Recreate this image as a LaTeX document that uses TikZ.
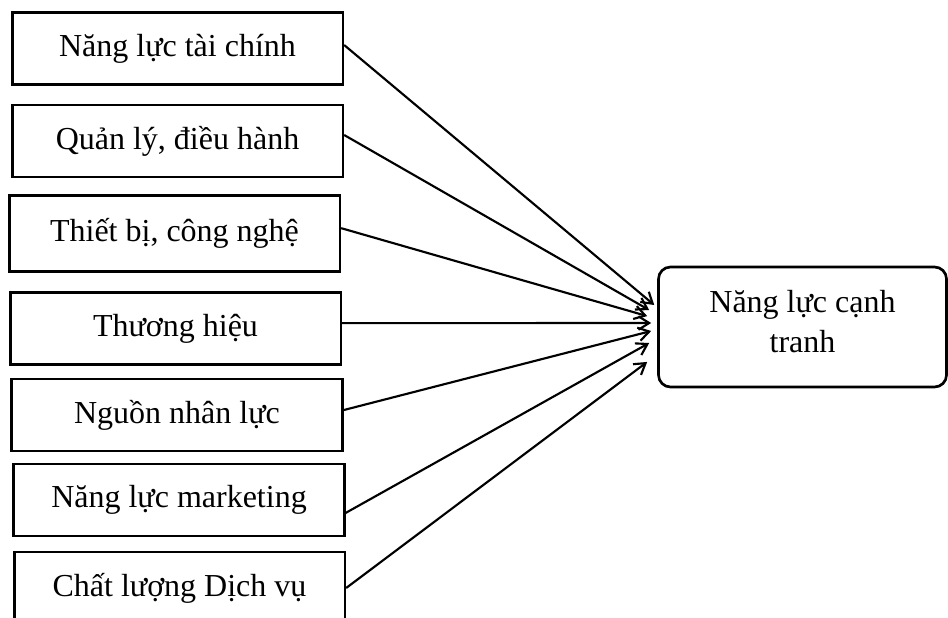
\documentclass[tikz,border=0pt]{standalone}
\usepackage{fontspec}
\setmainfont{Liberation Serif}
\usetikzlibrary{arrows.meta}

\tikzset{
    factor/.style={draw, line width=2pt, minimum width=248pt, minimum height=54pt,
        inner sep=0pt, font=\fontsize{24}{30}\selectfont},
    result/.style={draw, line width=2pt, rounded corners=9pt, minimum width=216pt,
        minimum height=90pt, align=center, text depth=9pt, font=\fontsize{24}{30}\selectfont},
    link/.style={line width=1.6pt, -{Straight Barb[length=8pt,width=10pt]}}
}

\begin{document}
\begin{tikzpicture}[x=0.75pt, y=-0.75pt]
        \useasboundingbox (0,0) rectangle (948,617);
        \node[factor] (tc) at (177.5,48.5) {Năng lực tài chính};
        \node[factor] (ql) at (177.5,141) {Quản lý, điều hành};
        \node[factor, minimum height=57pt] (tb) at (174.5,233.5) {Thiết bị, công nghệ};
        \node[factor] (th) at (175.5,328.5) {Thương hiệu};
        \node[factor] (nl) at (177,415) {Nguồn nhân lực};
        \node[factor] (mk) at (179,500) {Năng lực marketing};
        \node[factor] (dv) at (179.5,588) {Chất lượng Dịch vụ};
        \node[result] (cc) at (802.5,327) {Năng lực cạnh\\tranh};
        \draw[link] ([yshift=2.6pt]tc.east) to ([xshift=-2.2pt,yshift=16.5pt]cc.west);
        \draw[link] ([yshift=4.5pt]ql.east) to ([xshift=-6pt,yshift=12.7pt]cc.west);
        \draw[link] ([yshift=4pt]tb.east) to ([xshift=-7.5pt,yshift=8.2pt]cc.west);
        \draw[link] ([yshift=4pt]th.east) to ([xshift=-4.5pt,yshift=3pt]cc.west);
        \draw[link] ([yshift=3.7pt]nl.east) to ([xshift=-4.5pt,yshift=-3pt]cc.west);
        \draw[link] ([yshift=-9.7pt]mk.east) to ([xshift=-6pt,yshift=-12pt]cc.west);
        \draw[link] (dv.east) to ([xshift=-7.5pt,yshift=-26.2pt]cc.west);
    \end{tikzpicture}
\end{document}
